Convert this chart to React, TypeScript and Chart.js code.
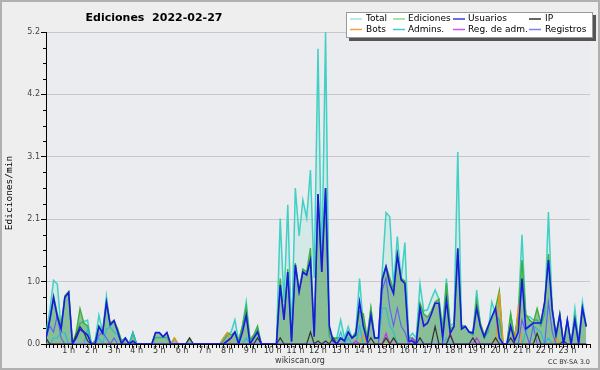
import React, { useEffect, useRef } from "react";
import { Chart, registerables } from "chart.js";
Chart.register(...registerables);

// 10-minute slots over the day (144 per series), values in edits/min
const TITLE = "Ediciones  2022-02-27";
const Y_TICKS = [0, 1.04, 2.08, 3.12, 4.16, 5.2];
const HOUR_LABELS = ["1 h","2 h","3 h","4 h","5 h","6 h","7 h","8 h","9 h","10 h","11 h","12 h","13 h","14 h","15 h","16 h","17 h","18 h","19 h","20 h","21 h","22 h","23 h"];

const total = [
  .18,.55,1.06,1.0,.25,.8,   .87,0,.15,.35,.37,.4,   0,.05,.48,.2,.8,.3,   .39,.22,.05,.1,0,.19,
  0,0,0,0,0,.11,   .11,.11,.11,0,0,0,   0,0,0,0,0,0,   0,0,0,0,0,.05,
  .15,.2,.4,.05,.3,.7,   .07,.1,.25,0,0,0,   0,0,2.09,.7,2.32,.1,   2.6,1.8,2.4,2.1,2.9,1.1,
  4.92,1.2,5.2,.12,.05,.1,   .4,.1,.29,.1,.2,1.09,   .3,.1,.6,.1,.1,1.2,   2.19,2.12,.96,1.79,1.07,1.69,
  .1,.18,.1,1.0,.55,.57,   .75,.9,.75,.3,1.09,.3,   .35,3.2,.29,.3,.2,.15,   .9,.3,.1,.2,.7,.5,
  .4,0,0,.5,.1,.5,   1.82,.46,.46,.4,.4,.3,   .5,2.2,.6,.1,.5,0,   .4,0,.59,.05,.7,.3
];
const ediciones = [
  .18,.4,.8,.5,.3,.8,   .87,0,.2,.59,.35,.3,   0,.05,.3,.2,.7,.35,   .39,.25,.05,.1,0,.19,
  0,0,0,0,0,.19,   .19,.12,.19,0,.1,0,   0,0,.1,0,0,0,   0,0,0,0,0,.1,
  .19,.15,.2,.05,.3,.62,   .07,.15,.3,0,0,0,   0,0,1.09,.45,1.25,.05,   1.35,.9,1.25,1.2,1.6,.15,
  2.5,1.25,2.6,.2,.1,.1,   .1,.05,.2,.1,.2,.55,   .5,.1,.6,.1,.1,1.1,   1.3,1.1,.9,1.5,1.1,1.05,
  .1,.1,.05,.68,.5,.45,   .55,.7,.75,.2,1.01,.25,   .3,1.6,.3,.3,.2,.2,   .73,.35,.15,.3,.45,.6,
  .89,0,0,.5,.1,.5,   1.4,.5,.4,.35,.59,.35,   .7,1.5,.6,.15,.5,0,   .4,0,.45,.05,.6,.3
];
const usuarios = [
  .1,.4,.77,.45,.25,.78,   .86,0,.1,.25,.2,.15,   0,0,.29,.18,.69,.32,   .39,.2,0,.1,0,.05,
  0,0,0,0,0,.19,   .19,.12,.19,0,0,0,   0,0,0,0,0,0,   0,0,0,0,0,0,
  .05,.1,.2,0,.2,.48,   0,.1,.2,0,0,0,   0,0,.98,.4,1.2,.04,   1.32,.87,1.2,1.15,1.4,.12,
  2.5,1.2,2.6,.3,.05,0,   .1,.05,.2,.1,.15,.7,   .3,.05,.48,.1,.1,1.07,   1.29,1.0,.84,1.48,1.07,1.01,
  .05,.05,0,.6,.3,.35,   .5,.68,.68,.1,.73,.18,   .29,1.59,.25,.29,.2,.18,   .6,.29,.12,.29,.45,.6,
  .1,0,0,.3,.05,.2,   1.09,.25,.3,.35,.35,.35,   .7,1.4,.57,.15,.48,0,   .4,0,.4,0,.6,.29
];
const ip = [
  .1,0,0,0,0,0,   0,0,.15,.29,.2,.05,   0,0,0,0,0,0,   0,0,0,0,0,0,
  0,0,0,0,0,0,   0,0,0,0,0,0,   0,0,.1,0,0,0,   0,0,0,0,0,0,
  0,0,0,0,0,0,   0,0,.1,0,0,0,   0,0,.1,0,0,0,   0,0,0,0,.2,0,
  .05,0,.05,0,.1,0,   0,0,0,0,0,0,   0,0,.1,0,0,0,   .1,0,.1,0,0,0,
  0,0,0,.1,0,0,   0,.29,0,0,0,.15,   0,0,0,0,0,.1,   0,0,0,0,0,.1,
  0,0,0,.1,0,0,   0,0,0,0,.18,0,   0,0,0,0,0,.05,   0,0,0,0,0,0
];
const bots = [
  0,0,0,0,0,0,   0,0,0,0,0,0,   0,0,0,0,0,0,   0,0,0,0,0,0,
  0,0,0,0,0,0,   0,0,0,0,.1,0,   0,0,0,0,0,0,   0,0,0,0,0,.1,
  .19,0,0,0,0,0,   0,0,0,0,0,0,   0,0,0,0,0,0,   0,0,0,0,0,0,
  0,0,0,0,0,0,   0,0,0,0,0,0,   .15,0,0,0,0,0,   0,0,0,0,0,0,
  0,0,0,0,0,0,   0,0,0,0,0,0,   0,0,0,0,0,0,   0,0,0,0,0,0,
  .87,0,0,0,0,.62,   0,0,0,0,0,0,   0,0,0,.1,0,0,   0,0,0,0,0,0
];
const admins = [
  0,0,.1,.1,.2,.18,   0,0,0,0,0,.25,   0,0,.1,0,.25,.28,   .2,.15,0,0,0,.19,
  0,0,0,0,0,0,   0,0,0,0,0,0,   0,0,0,0,0,0,   0,0,0,0,0,0,
  0,0,0,0,0,.1,   0,0,0,0,0,0,   0,0,0,0,0,0,   0,0,0,0,0,0,
  0,0,0,0,0,0,   .2,0,.1,0,0,.3,   0,0,0,0,0,.6,   .6,.3,.2,0,0,0,
  0,.1,0,0,0,0,   0,0,0,0,.1,0,   0,0,0,0,0,0,   0,0,0,0,0,0,
  0,0,0,0,0,0,   0,.2,.3,.3,.25,.2,   0,.1,0,0,0,0,   0,0,0,0,0,0
];
const regAdm = [
  0,0,0,0,0,0,   0,0,0,0,0,0,   0,0,0,0,0,0,   0,0,0,0,0,0,
  0,0,0,0,0,0,   0,0,0,0,0,0,   0,0,0,0,0,0,   0,0,0,0,0,0,
  0,0,0,0,0,0,   0,0,0,0,0,0,   0,0,0,0,0,0,   0,0,0,0,0,0,
  0,0,0,0,0,0,   0,0,0,0,.05,0,   0,0,0,0,0,0,   .18,0,0,0,0,0,
  0,.1,0,0,0,0,   0,0,0,0,0,.18,   0,0,0,0,0,0,   .1,0,0,0,0,0,
  0,0,0,0,0,0,   0,0,0,0,0,0,   0,0,0,0,0,0,   0,0,0,0,0,0
];
const registros = [
  .1,.3,.2,.48,.1,0,   0,0,0,0,0,0,   0,0,.15,.2,.1,0,   .1,0,0,0,0,0,
  0,0,0,0,0,0,   0,0,0,0,0,0,   0,0,0,0,0,0,   0,0,0,0,0,0,
  0,0,0,0,0,0,   0,0,0,0,0,0,   0,0,0,0,0,0,   0,0,0,0,0,0,
  0,0,0,0,0,0,   0,0,0,0,0,0,   0,0,0,0,0,.9,   1.1,.6,.3,.6,.3,.2,
  0,0,0,0,0,0,   0,0,0,0,0,0,   0,0,0,0,0,0,   0,0,0,0,0,0,
  0,0,0,0,0,0,   .4,.2,0,.3,0,0,   0,.7,.2,0,0,0,   0,0,0,0,0,0
];

const LEGEND = [
  { label: "Total", color: "#9fe3da" },
  { label: "Ediciones", color: "#8fd68f" },
  { label: "Usuarios", color: "#3c3cdc" },
  { label: "IP", color: "#333333" },
  { label: "Bots", color: "#f4a040" },
  { label: "Admins.", color: "#40c8d8" },
  { label: "Reg. de adm.", color: "#d050e8" },
  { label: "Registros", color: "#8080f0" },
];

const toPts = (arr: number[]) => arr.map((v, i) => ({ x: i / 6, y: v }));

const decoPlugin = {
  id: "deco",
  beforeDraw(chart: any) {
    const { ctx, chartArea: a, width, height } = chart;
    ctx.save();
    ctx.fillStyle = "#eeeeee";
    ctx.fillRect(0, 0, width, height);
    ctx.fillStyle = "#ebecef";
    ctx.fillRect(a.left, a.top, a.right - a.left, a.bottom - a.top);
    ctx.restore();
  },
  afterDraw(chart: any) {
    const { ctx, chartArea: a, width, height, scales } = chart;
    ctx.save();
    // minor y ticks
    ctx.strokeStyle = "#000";
    ctx.lineWidth = 1;
    for (let k = 0; k < Y_TICKS.length - 1; k++) {
      for (let q = 1; q < 4; q++) {
        const v = Y_TICKS[k] + ((Y_TICKS[k + 1] - Y_TICKS[k]) * q) / 4;
        const y = Math.round(scales.y.getPixelForValue(v)) + 0.5;
        ctx.beginPath();
        ctx.moveTo(a.left - 3, y);
        ctx.lineTo(a.left, y);
        ctx.stroke();
      }
    }
    // title
    ctx.fillStyle = "#000";
    ctx.font = "bold 11px 'DejaVu Sans'";
    ctx.textAlign = "center";
    ctx.textBaseline = "alphabetic";
    ctx.fillText(TITLE, 154, 21);
    // y title
    ctx.save();
    ctx.translate(10, 193);
    ctx.rotate(-Math.PI / 2);
    ctx.font = "9.5px 'DejaVu Sans Mono'";
    ctx.textBaseline = "middle";
    ctx.fillText("Ediciones/min", 0, 0);
    ctx.restore();
    // legend
    ctx.fillStyle = "#555";
    ctx.fillRect(349, 15, 247, 26);
    ctx.fillStyle = "#ffffff";
    ctx.fillRect(346, 12, 247, 26);
    ctx.strokeStyle = "#999";
    ctx.strokeRect(346.5, 12.5, 246, 25);
    const swX = [350, 393, 453, 529];
    const txX = [366, 408, 468, 545];
    const rowY = [19, 29.5];
    ctx.font = "9px 'DejaVu Sans'";
    ctx.textAlign = "left";
    ctx.textBaseline = "middle";
    LEGEND.forEach((it, idx) => {
      const c = idx % 4, r = Math.floor(idx / 4);
      ctx.strokeStyle = it.color;
      ctx.lineWidth = 1.5;
      ctx.beginPath();
      ctx.moveTo(swX[c], rowY[r]);
      ctx.lineTo(swX[c] + 12, rowY[r]);
      ctx.stroke();
      ctx.fillStyle = "#000";
      ctx.fillText(it.label, txX[c], rowY[r]);
    });
    // footer
    ctx.fillStyle = "#333";
    ctx.font = "8px 'DejaVu Sans'";
    ctx.textAlign = "center";
    ctx.fillText("wikiscan.org", 300, 361);
    ctx.font = "6.5px 'DejaVu Sans'";
    ctx.textAlign = "right";
    ctx.fillText("CC BY-SA 3.0", 590, 362.5);
    // frame
    ctx.strokeStyle = "#b0b0b0";
    ctx.lineWidth = 2;
    ctx.strokeRect(1, 1, width - 2, height - 2);
    ctx.restore();
  },
};

export default function App() {
  const ref = useRef<HTMLCanvasElement>(null);
  useEffect(() => {
    const line = (label: string, data: number[], color: string, w: number, order: number, extra: any = {}) => ({
      label, data: toPts(data), borderColor: color, borderWidth: w, pointRadius: 0, tension: 0, fill: false, order, ...extra,
    });
    const chart = new Chart(ref.current as HTMLCanvasElement, {
      type: "line",
      data: {
        datasets: [
          line("Usuarios", usuarios, "rgb(25,25,225)", 1.6, 0),
          line("IP", ip, "rgb(50,50,50)", 1.2, 0),
          line("Registros", registros, "rgb(95,95,245)", 1.1, 0),
          line("Reg. de adm.", regAdm, "rgb(200,50,225)", 1.2, 0),
          line("Admins.", admins, "rgb(40,190,215)", 1.2, 0),
          line("Bots", bots, "rgb(240,150,20)", 1.2, 0),
          line("Ediciones", ediciones, "rgb(60,175,60)", 1.4, 1, { fill: "origin", backgroundColor: "rgba(45,140,55,0.45)" }),
          line("Total", total, "rgb(64,208,196)", 1.5, 2, { fill: "origin", backgroundColor: "rgba(80,210,190,0.14)" }),
        ],
      },
      options: {
        responsive: false,
        animation: false,
        layout: { padding: { left: 0, top: 32, right: 10, bottom: 0 } },
        plugins: { legend: { display: false }, title: { display: false }, tooltip: { enabled: false } },
        scales: {
          x: {
            type: "linear",
            min: 0,
            max: 24,
            afterBuildTicks: (s: any) => {
              s.ticks = Array.from({ length: 145 }, (_, k) => ({ value: k / 6 }));
            },
            afterFit: (s: any) => { s.height = 26; },
            ticks: {
              autoSkip: false,
              maxRotation: 0,
              minRotation: 0,
              padding: -2,
              color: "#333",
              font: { family: "DejaVu Sans", size: 8 },
              callback: (_v: any, idx: number) => (idx % 6 === 0 && idx > 0 && idx < 144 ? HOUR_LABELS[idx / 6 - 1] : ""),
            },
            grid: { drawOnChartArea: false, drawTicks: true, tickLength: 4, tickColor: "#000", color: "#000" },
            border: { display: true, color: "#000", width: 1 },
          },
          y: {
            min: 0,
            max: 5.2,
            afterBuildTicks: (s: any) => {
              s.ticks = Y_TICKS.map((v) => ({ value: v }));
            },
            afterFit: (s: any) => { s.width = 46; },
            ticks: {
              padding: 1,
              color: "#444",
              font: { family: "DejaVu Sans", size: 8 },
              callback: (v: any) => Number(v).toFixed(1),
            },
            grid: {
              color: (c: any) => (c.tick && c.tick.value === 0 ? "rgba(0,0,0,0)" : "#c8c8c8"),
              tickLength: 5,
              tickColor: "#000",
            },
            border: { display: true, color: "#000", width: 1 },
          },
        },
      },
      plugins: [decoPlugin],
    });
    return () => chart.destroy();
  }, []);
  return (
    <div style={{ position: "fixed", left: 0, top: 0, width: 600, height: 370 }}>
      <canvas ref={ref} width={600} height={370} style={{ display: "block" }} />
    </div>
  );
}
